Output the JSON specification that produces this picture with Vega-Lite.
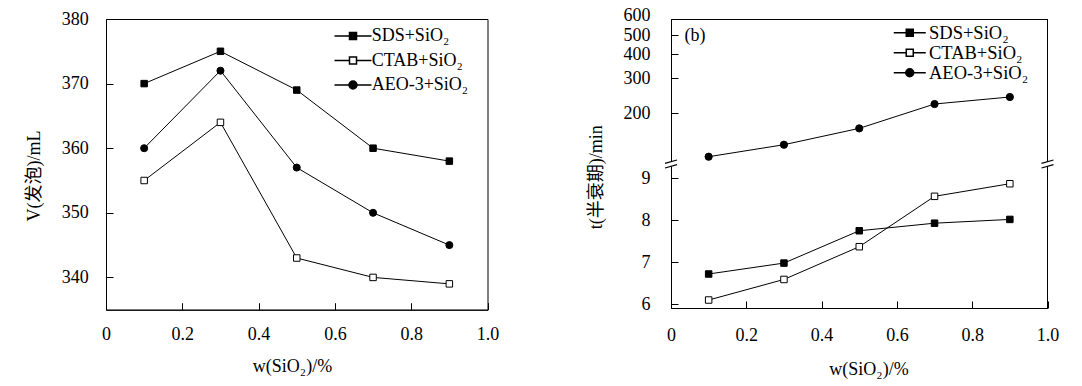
{
  "$schema": "https://vega.github.io/schema/vega-lite/v6.json",
  "background": "white",
  "padding": {"left": 24, "top": 6, "right": 5, "bottom": 5},
  "config": {
    "font": "Liberation Serif, Noto Sans CJK SC",
    "view": {"stroke": null},
    "axis": {
      "grid": false, "domainColor": "black", "domainWidth": 1, "tickColor": "black", "tickWidth": 1, "tickSize": -7,
      "labelColor": "black", "labelFont": "Liberation Serif, Noto Sans CJK SC", "labelFontSize": 18,
      "titleFont": "Liberation Serif, Noto Sans CJK SC", "titleFontSize": 18, "titleFontWeight": "normal", "titleColor": "black",
      "zindex": 0, "labelFlush": false, "labelOverlap": false
    },
    "legend": {"padding": 0, "labelFont": "Liberation Serif, Noto Sans CJK SC", "labelColor": "black"}
  },
  "datasets": {
    "a": [
      {"w": 0.1, "V": 370, "s": "SDS+SiO₂"}, {"w": 0.3, "V": 375, "s": "SDS+SiO₂"}, {"w": 0.5, "V": 369, "s": "SDS+SiO₂"}, {"w": 0.7, "V": 360, "s": "SDS+SiO₂"}, {"w": 0.9, "V": 358, "s": "SDS+SiO₂"},
      {"w": 0.1, "V": 355, "s": "CTAB+SiO₂"}, {"w": 0.3, "V": 364, "s": "CTAB+SiO₂"}, {"w": 0.5, "V": 343, "s": "CTAB+SiO₂"}, {"w": 0.7, "V": 340, "s": "CTAB+SiO₂"}, {"w": 0.9, "V": 339, "s": "CTAB+SiO₂"},
      {"w": 0.1, "V": 360, "s": "AEO-3+SiO₂"}, {"w": 0.3, "V": 372, "s": "AEO-3+SiO₂"}, {"w": 0.5, "V": 357, "s": "AEO-3+SiO₂"}, {"w": 0.7, "V": 350, "s": "AEO-3+SiO₂"}, {"w": 0.9, "V": 345, "s": "AEO-3+SiO₂"}
    ],
    "bu": [
      {"w": 0.1, "t": 119, "s": "AEO-3+SiO₂"}, {"w": 0.3, "t": 137, "s": "AEO-3+SiO₂"}, {"w": 0.5, "t": 166, "s": "AEO-3+SiO₂"}, {"w": 0.7, "t": 221, "s": "AEO-3+SiO₂"}, {"w": 0.9, "t": 240, "s": "AEO-3+SiO₂"}
    ],
    "bl": [
      {"w": 0.1, "t": 6.72, "s": "SDS+SiO₂"}, {"w": 0.3, "t": 6.98, "s": "SDS+SiO₂"}, {"w": 0.5, "t": 7.75, "s": "SDS+SiO₂"}, {"w": 0.7, "t": 7.93, "s": "SDS+SiO₂"}, {"w": 0.9, "t": 8.02, "s": "SDS+SiO₂"},
      {"w": 0.1, "t": 6.10, "s": "CTAB+SiO₂"}, {"w": 0.3, "t": 6.59, "s": "CTAB+SiO₂"}, {"w": 0.5, "t": 7.37, "s": "CTAB+SiO₂"}, {"w": 0.7, "t": 8.57, "s": "CTAB+SiO₂"}, {"w": 0.9, "t": 8.87, "s": "CTAB+SiO₂"}
    ]
  },
  "hconcat": [
    {
      "width": 381.5, "height": 290.7,
      "view": {"stroke": "black", "strokeWidth": 1},
      "data": {"name": "a"},
      "encoding": {
        "x": {"field": "w", "type": "quantitative", "scale": {"domain": [0, 1], "nice": false},
          "axis": {"values": [0, 0.2, 0.4, 0.6, 0.8, 1], "labelExpr": "datum.value === 0 ? '0' : format(datum.value, '.1f')", "labelPadding": 23, "title": "w(SiO₂)/%", "titleX": 186, "titleY": 57, "titleBaseline": "middle", "titleAlign": "center"}},
        "y": {"field": "V", "type": "quantitative", "scale": {"domain": [335, 380], "nice": false, "zero": false},
          "axis": {"values": [340, 350, 360, 370, 380], "labelPadding": 24.7, "title": "V(发泡)/mL", "titleX": -72, "titleY": 156.4, "titleBaseline": "middle", "titleAlign": "center", "titleAngle": -90}}
      },
      "layer": [
        {
          "mark": {"type": "line", "color": "black", "strokeWidth": 1},
          "encoding": {"detail": {"field": "s"}}
        },
        {
          "transform": [{"filter": "false"}],
          "mark": {"type": "point", "filled": true, "fill": "black", "stroke": "black", "strokeWidth": 1, "opacity": 1, "size": 4},
          "encoding": {
            "shape": {"field": "s", "type": "nominal", "scale": {"domain": ["SDS+SiO₂", "CTAB+SiO₂", "AEO-3+SiO₂"],
                "range": ["M-18.5,0H-3.5M3.5,0H18.5M-3.5,-3.5H3.5V3.5H-3.5Z", "M-18.5,0H-3.5M3.5,0H18.5M-3.5,-3.5H3.5V3.5H-3.5ZM-3.5,-3.5V3.5H3.5V-3.5Z", "M-18.5,0H-4M4,0H18.5M-4,0A4,4 0 1,1 4,0A4,4 0 1,1 -4,0Z"]},
              "legend": {"title": null, "orient": "none", "legendX": 238, "legendY": 8, "labelFontSize": 18, "symbolSize": 4, "symbolOpacity": 1, "labelOffset": 9.7, "rowPadding": 6.5}}
          }
        },
        {
          "transform": [{"filter": "datum.s === 'SDS+SiO₂'"}],
          "mark": {"type": "point", "shape": "square", "filled": true, "fill": "black", "stroke": "black", "strokeWidth": 1, "opacity": 1, "size": 42}
        },
        {
          "transform": [{"filter": "datum.s === 'CTAB+SiO₂'"}],
          "mark": {"type": "point", "shape": "square", "filled": true, "fill": "white", "stroke": "black", "strokeWidth": 1, "opacity": 1, "size": 42}
        },
        {
          "transform": [{"filter": "datum.s === 'AEO-3+SiO₂'"}],
          "mark": {"type": "point", "shape": "circle", "filled": true, "fill": "black", "stroke": "black", "strokeWidth": 1, "opacity": 1, "size": 50}
        },
        {
          "data": {"values": [{"lab": "(a)"}]},
          "mark": {"type": "text", "align": "left", "baseline": "middle", "fontSize": 18, "color": "black"},
          "encoding": {"x": {"datum": 0.045, "type": "quantitative"}, "y": {"datum": 377.3, "type": "quantitative"}, "text": {"field": "lab"}}
        }
      ]
    },
    {
      "vconcat": [
        {
          "width": 376.5, "height": 144.4,
          "layer": [
            {
              "data": {"values": [{}]},
              "mark": {"type": "rule", "color": "black", "strokeWidth": 1},
              "encoding": {"x": {"datum": 1, "type": "quantitative"}}
            },
            {
              "data": {"name": "bu"},
              "mark": {"type": "line", "color": "black", "strokeWidth": 1},
              "encoding": {
                "x": {"field": "w", "type": "quantitative", "scale": {"domain": [0, 1], "nice": false},
                  "axis": {"orient": "top", "labels": false, "ticks": false, "title": null, "domain": true}},
                "y": {"field": "t", "type": "quantitative", "scale": {"type": "log", "domain": [110, 600], "nice": false},
                  "axis": {"values": [200, 300, 400, 500, 600], "format": "d", "labelPadding": 28,
                    "labelOffset": {"condition": {"test": "datum.value === 600", "value": -4}, "value": 1},
                    "title": "t(半衰期)/min", "titleX": -74.5, "titleY": 157.7, "titleBaseline": "middle", "titleAlign": "center", "titleAngle": -90}},
                "detail": {"field": "s"}
              }
            },
            {
              "data": {"name": "bu"},
              "transform": [{"filter": "false"}],
              "mark": {"type": "point", "filled": true, "fill": "black", "stroke": "black", "strokeWidth": 1, "opacity": 1, "size": 4},
              "encoding": {
                "x": {"field": "w", "type": "quantitative"},
                "y": {"field": "t", "type": "quantitative"},
                "shape": {"field": "s", "type": "nominal", "scale": {"domain": ["SDS+SiO₂", "CTAB+SiO₂", "AEO-3+SiO₂"],
                    "range": ["M-16,0H-3.5M3.5,0H16M-3.5,-3.5H3.5V3.5H-3.5Z", "M-16,0H-3.5M3.5,0H16M-3.5,-3.5H3.5V3.5H-3.5ZM-3.5,-3.5V3.5H3.5V-3.5Z", "M-16,0H-4M4,0H16M-4,0A4,4 0 1,1 4,0A4,4 0 1,1 -4,0Z"]},
                  "legend": {"title": null, "orient": "none", "legendX": 229.5, "legendY": 4.5, "labelFontSize": 18.5, "symbolSize": 4, "symbolOpacity": 1, "labelOffset": 10, "rowPadding": 1}}
              }
            },
            {
              "data": {"name": "bu"},
              "mark": {"type": "point", "shape": "circle", "filled": true, "fill": "black", "stroke": "black", "strokeWidth": 1, "opacity": 1, "size": 52},
              "encoding": {"x": {"field": "w", "type": "quantitative"}, "y": {"field": "t", "type": "quantitative"}}
            },
            {
              "data": {"values": [{"lab": "(b)"}]},
              "mark": {"type": "text", "align": "left", "baseline": "middle", "fontSize": 18, "color": "black"},
              "encoding": {"x": {"datum": 0.036, "type": "quantitative"}, "y": {"datum": 493, "type": "quantitative"}, "text": {"field": "lab"}}
            }
          ]
        },
        {
          "width": 376.5, "height": 144,
          "layer": [
            {
              "data": {"values": [{}]},
              "mark": {"type": "rule", "color": "black", "strokeWidth": 1},
              "encoding": {"x": {"datum": 1, "type": "quantitative"}}
            },
            {
              "data": {"name": "bl"},
              "mark": {"type": "line", "color": "black", "strokeWidth": 1},
              "encoding": {
                "x": {"field": "w", "type": "quantitative", "scale": {"domain": [0, 1], "nice": false},
                  "axis": {"values": [0, 0.2, 0.4, 0.6, 0.8, 1], "labelExpr": "datum.value === 0 ? '0' : format(datum.value, '.1f')", "labelPadding": 25, "title": "w(SiO₂)/%", "titleX": 197.5, "titleY": 61.3, "titleBaseline": "middle", "titleAlign": "center"}},
                "y": {"field": "t", "type": "quantitative", "scale": {"domain": [5.91, 9.34], "nice": false, "zero": false},
                  "axis": {"values": [6, 7, 8, 9], "labelPadding": 28, "title": null}},
                "detail": {"field": "s"}
              }
            },
            {
              "data": {"name": "bl"},
              "transform": [{"filter": "datum.s === 'SDS+SiO₂'"}],
              "mark": {"type": "point", "shape": "square", "filled": true, "fill": "black", "stroke": "black", "strokeWidth": 1, "opacity": 1, "size": 42},
              "encoding": {"x": {"field": "w", "type": "quantitative"}, "y": {"field": "t", "type": "quantitative"}}
            },
            {
              "data": {"name": "bl"},
              "transform": [{"filter": "datum.s === 'CTAB+SiO₂'"}],
              "mark": {"type": "point", "shape": "square", "filled": true, "fill": "white", "stroke": "black", "strokeWidth": 1, "opacity": 1, "size": 42},
              "encoding": {"x": {"field": "w", "type": "quantitative"}, "y": {"field": "t", "type": "quantitative"}}
            },
            {
              "data": {"values": [{"e": 0}, {"e": 1}]},
              "mark": {"type": "point", "filled": true, "fill": "white", "strokeWidth": 0, "opacity": 1, "size": 4, "shape": "M-6,-0.6L6,-4L6,0.7L-6,4Z"},
              "encoding": {"x": {"field": "e", "type": "quantitative"}, "y": {"datum": 9.34, "type": "quantitative"}}
            },
            {
              "data": {"values": [{"e": 0}, {"e": 1}]},
              "mark": {"type": "point", "filled": false, "stroke": "black", "strokeWidth": 1.2, "opacity": 1, "size": 4, "shape": "M-6,-0.6L6,-4M-6,4L6,0.7"},
              "encoding": {"x": {"field": "e", "type": "quantitative"}, "y": {"datum": 9.34, "type": "quantitative"}}
            }
          ]
        }
      ],
      "spacing": 0,
      "bounds": "flush",
      "resolve": {"scale": {"x": "independent", "y": "independent", "shape": "independent"}, "legend": {"shape": "independent"}}
    }
  ],
  "spacing": 183,
  "bounds": "flush",
  "resolve": {"scale": {"x": "independent", "y": "independent", "shape": "independent"}, "legend": {"shape": "independent"}}
}
